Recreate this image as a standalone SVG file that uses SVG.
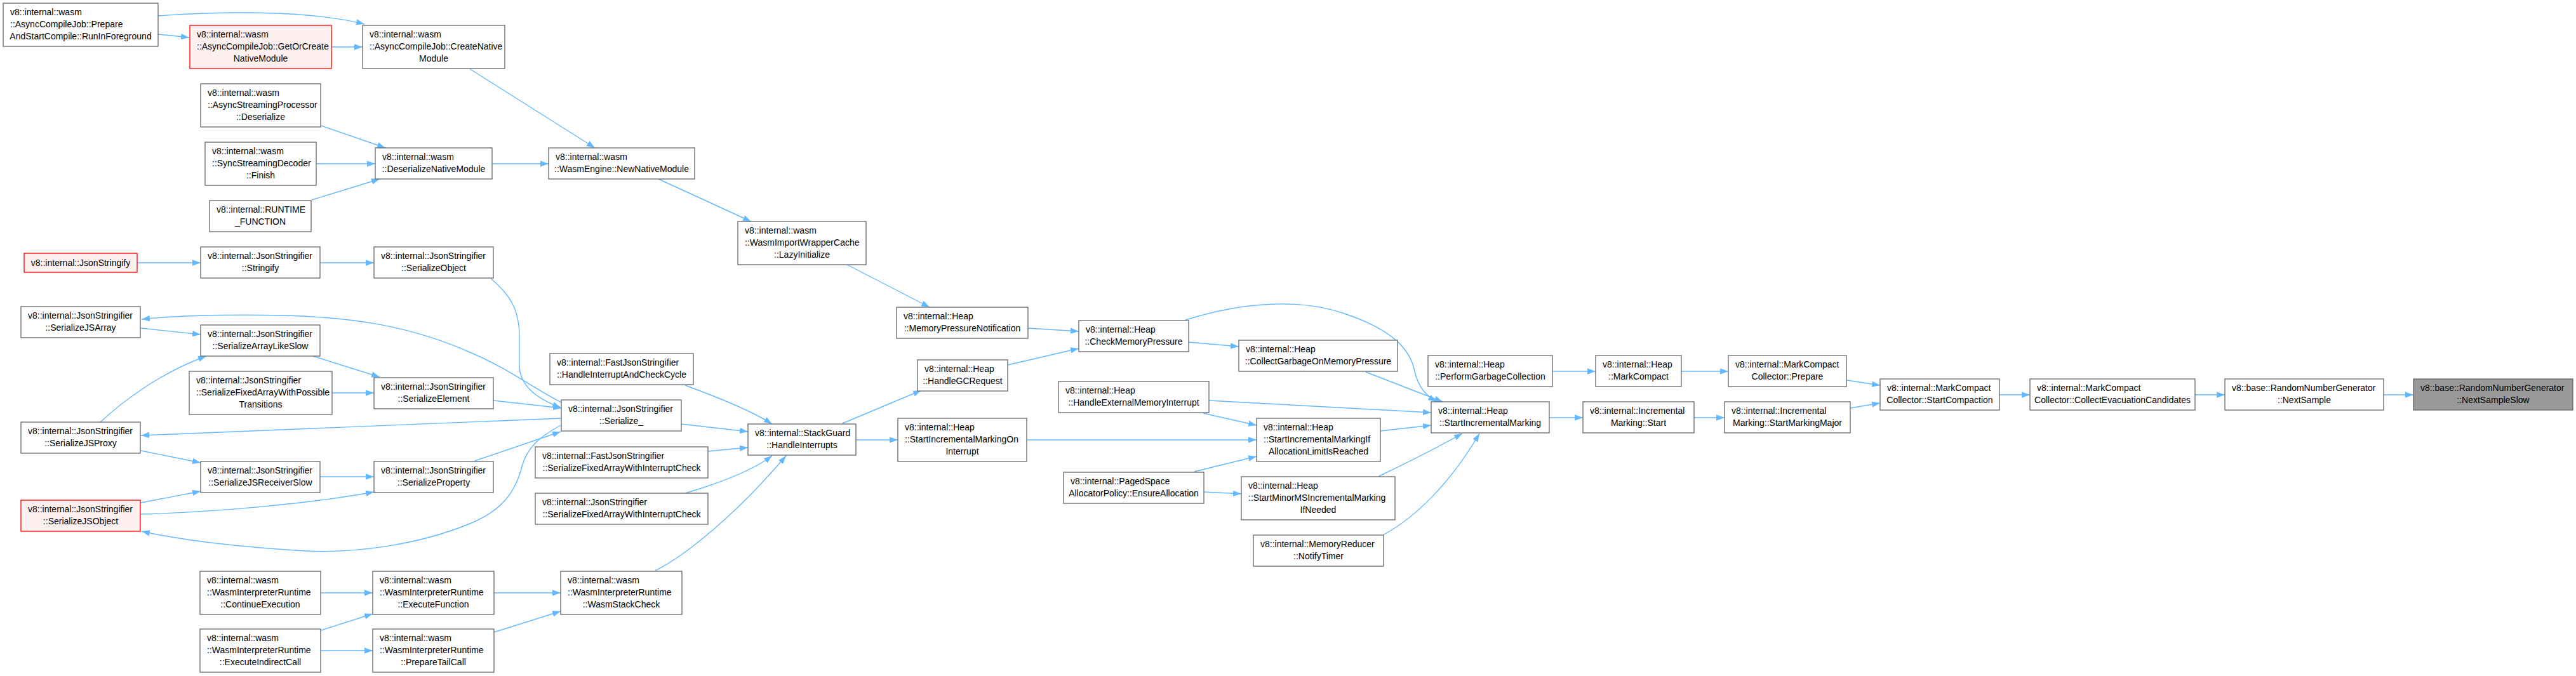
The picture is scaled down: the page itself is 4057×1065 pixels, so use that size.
<svg xmlns="http://www.w3.org/2000/svg" width="4057" height="1065" viewBox="0 0 4057 1065">
<style>
.node rect{fill:#ffffff;stroke:#666666;stroke-width:1.3}
.red rect{fill:#fff0f0;stroke:#ff0000}
.cur rect{fill:#999999;stroke:#666666}
text{font-family:"Liberation Sans",Arial,sans-serif;font-size:14px;fill:#000000}
.l{text-anchor:start}
.c{text-anchor:middle}
.edges path{fill:none;stroke:#63b8ff;stroke-width:1.4;marker-end:url(#ah)}
</style>
<defs>
<marker id="ah" markerWidth="14" markerHeight="10" refX="13" refY="5" orient="auto" markerUnits="userSpaceOnUse">
<path d="M0,0.3 L13,5 L0,9.7 z" fill="#63b8ff" stroke="none"/>
</marker>
</defs>
<rect width="4057" height="1065" fill="#ffffff"/>
<g class="edges" id="edges">
<path d="M249,54 L298,59"/>
<path d="M249,25 C330,19 480,14 574,38"/>
<path d="M522,74 L571,74"/>
<path d="M739,108 L937,233"/>
<path d="M506,198 L607,233"/>
<path d="M498,258 L591,258"/>
<path d="M491,315 L598,282"/>
<path d="M775,258 L864,258"/>
<path d="M1037,282 L1183,349"/>
<path d="M1334,417 L1464,484"/>
<path d="M216,414 L316,414"/>
<path d="M504,414 L589,414"/>
<path d="M773,439 C805,465 818,490 818,530 L818,575 C818,610 850,630 883,642"/>
<path d="M222,517 L316,527"/>
<path d="M884,634 C840,612 800,580 740,555 C650,515 560,500 450,497 C350,495 270,498 223,503"/>
<path d="M493,561 L598,594"/>
<path d="M523,619 L589,619"/>
<path d="M777,631 L884,643"/>
<path d="M884,659 L222,686"/>
<path d="M158,665 C185,640 245,590 325,561"/>
<path d="M222,710 L316,729"/>
<path d="M222,792 L316,774"/>
<path d="M504,751 L589,751"/>
<path d="M222,810 C330,807 480,795 589,775"/>
<path d="M883,670 C850,688 830,705 822,735 C812,775 790,805 740,825 C660,858 560,872 480,868 C380,862 290,852 223,837"/>
<path d="M748,726 L883,680"/>
<path d="M1073,668 L1178,680"/>
<path d="M1079,607 C1120,622 1180,645 1216,668"/>
<path d="M1115,711 L1178,705"/>
<path d="M1079,777 C1120,765 1180,745 1216,718"/>
<path d="M1032,899 C1080,875 1160,810 1238,718"/>
<path d="M505,934 L587,934"/>
<path d="M506,993 L587,967"/>
<path d="M505,1025 L587,1025"/>
<path d="M778,934 L883,934"/>
<path d="M778,996 L883,963"/>
<path d="M1327,667 L1451,615"/>
<path d="M1348,693 L1414,693"/>
<path d="M1619,517 L1699,522"/>
<path d="M1587,575 L1699,549"/>
<path d="M1867,504 C1960,475 2050,470 2120,495 C2200,522 2222,555 2228,585 C2234,610 2245,622 2262,633"/>
<path d="M1872,539 L1951,546"/>
<path d="M2151,586 L2272,633"/>
<path d="M1904,631 L2254,650"/>
<path d="M1895,651 L1979,670"/>
<path d="M1617,693 L1979,693"/>
<path d="M1881,743 L1979,719"/>
<path d="M1896,775 L1955,778"/>
<path d="M2174,679 L2254,670"/>
<path d="M2172,750 Q2240,718 2303,683"/>
<path d="M2178,843 C2230,815 2285,760 2330,683"/>
<path d="M2445,585 L2513,585"/>
<path d="M2648,585 L2722,585"/>
<path d="M2440,658 L2493,658"/>
<path d="M2668,658 L2716,658"/>
<path d="M2909,599 L2961,607"/>
<path d="M2914,643 L2961,635"/>
<path d="M3149,622 L3197,622"/>
<path d="M3457,622 L3504,622"/>
<path d="M3754,622 L3801,622"/>
</g>
<g id="n_runinforeground" class="node"><rect x="5" y="5" width="244" height="68"/><text class="l" x="16" y="24">v8::internal::wasm</text><text class="l" x="16" y="43">::AsyncCompileJob::Prepare</text><text class="c" x="127" y="62">AndStartCompile::RunInForeground</text></g>
<g id="n_getorcreate" class="node red"><rect x="299" y="40" width="223" height="68"/><text class="l" x="310" y="59">v8::internal::wasm</text><text class="l" x="310" y="78">::AsyncCompileJob::GetOrCreate</text><text class="c" x="410.5" y="97">NativeModule</text></g>
<g id="n_createnative" class="node"><rect x="571" y="40" width="224" height="68"/><text class="l" x="582" y="59">v8::internal::wasm</text><text class="l" x="582" y="78">::AsyncCompileJob::CreateNative</text><text class="c" x="683" y="97">Module</text></g>
<g id="n_asyncstreaming" class="node"><rect x="316" y="132" width="189" height="68"/><text class="l" x="327" y="151">v8::internal::wasm</text><text class="l" x="327" y="170">::AsyncStreamingProcessor</text><text class="c" x="410.5" y="189">::Deserialize</text></g>
<g id="n_syncstreaming" class="node"><rect x="323" y="224" width="175" height="68"/><text class="l" x="334" y="243">v8::internal::wasm</text><text class="l" x="334" y="262">::SyncStreamingDecoder</text><text class="c" x="410.5" y="281">::Finish</text></g>
<g id="n_runtime" class="node"><rect x="330" y="316" width="160" height="49"/><text class="l" x="341" y="335">v8::internal::RUNTIME</text><text class="c" x="410" y="354">_FUNCTION</text></g>
<g id="n_deserializenative" class="node"><rect x="591" y="233" width="184" height="49"/><text class="l" x="602" y="252">v8::internal::wasm</text><text class="c" x="683" y="271">::DeserializeNativeModule</text></g>
<g id="n_jsonstringify" class="node red"><rect x="38" y="399" width="178" height="30"/><text class="c" x="127" y="419">v8::internal::JsonStringify</text></g>
<g id="n_stringify" class="node"><rect x="316" y="389" width="188" height="49"/><text class="l" x="327" y="408">v8::internal::JsonStringifier</text><text class="c" x="410" y="427">::Stringify</text></g>
<g id="n_serializeobject" class="node"><rect x="589" y="389" width="188" height="49"/><text class="l" x="600" y="408">v8::internal::JsonStringifier</text><text class="c" x="683" y="427">::SerializeObject</text></g>
<g id="n_serializejsarray" class="node"><rect x="33" y="483" width="188" height="49"/><text class="l" x="44" y="502">v8::internal::JsonStringifier</text><text class="c" x="127" y="521">::SerializeJSArray</text></g>
<g id="n_arraylikeslow" class="node"><rect x="316" y="512" width="188" height="49"/><text class="l" x="327" y="531">v8::internal::JsonStringifier</text><text class="c" x="410" y="550">::SerializeArrayLikeSlow</text></g>
<g id="n_fixedpossible" class="node"><rect x="298" y="585" width="225" height="68"/><text class="l" x="309" y="604">v8::internal::JsonStringifier</text><text class="l" x="309" y="623">::SerializeFixedArrayWithPossible</text><text class="c" x="410.5" y="642">Transitions</text></g>
<g id="n_serializeelement" class="node"><rect x="589" y="595" width="188" height="49"/><text class="l" x="600" y="614">v8::internal::JsonStringifier</text><text class="c" x="683" y="633">::SerializeElement</text></g>
<g id="n_serializejsproxy" class="node"><rect x="33" y="665" width="188" height="49"/><text class="l" x="44" y="684">v8::internal::JsonStringifier</text><text class="c" x="127" y="703">::SerializeJSProxy</text></g>
<g id="n_receiverslow" class="node"><rect x="316" y="727" width="188" height="49"/><text class="l" x="327" y="746">v8::internal::JsonStringifier</text><text class="c" x="410" y="765">::SerializeJSReceiverSlow</text></g>
<g id="n_serializeproperty" class="node"><rect x="589" y="727" width="188" height="49"/><text class="l" x="600" y="746">v8::internal::JsonStringifier</text><text class="c" x="683" y="765">::SerializeProperty</text></g>
<g id="n_serializejsobject" class="node red"><rect x="33" y="788" width="188" height="49"/><text class="l" x="44" y="807">v8::internal::JsonStringifier</text><text class="c" x="127" y="826">::SerializeJSObject</text></g>
<g id="n_continueexecution" class="node"><rect x="315" y="900" width="190" height="68"/><text class="l" x="326" y="919">v8::internal::wasm</text><text class="l" x="326" y="938">::WasmInterpreterRuntime</text><text class="c" x="410" y="957">::ContinueExecution</text></g>
<g id="n_executeindirect" class="node"><rect x="315" y="991" width="190" height="68"/><text class="l" x="326" y="1010">v8::internal::wasm</text><text class="l" x="326" y="1029">::WasmInterpreterRuntime</text><text class="c" x="410" y="1048">::ExecuteIndirectCall</text></g>
<g id="n_executefunction" class="node"><rect x="587" y="900" width="191" height="68"/><text class="l" x="598" y="919">v8::internal::wasm</text><text class="l" x="598" y="938">::WasmInterpreterRuntime</text><text class="c" x="682.5" y="957">::ExecuteFunction</text></g>
<g id="n_preparetailcall" class="node"><rect x="587" y="991" width="191" height="68"/><text class="l" x="598" y="1010">v8::internal::wasm</text><text class="l" x="598" y="1029">::WasmInterpreterRuntime</text><text class="c" x="682.5" y="1048">::PrepareTailCall</text></g>
<g id="n_wasmstackcheck" class="node"><rect x="883" y="900" width="191" height="68"/><text class="l" x="894" y="919">v8::internal::wasm</text><text class="l" x="894" y="938">::WasmInterpreterRuntime</text><text class="c" x="978.5" y="957">::WasmStackCheck</text></g>
<g id="n_newnativemodule" class="node"><rect x="864" y="233" width="230" height="49"/><text class="l" x="875" y="252">v8::internal::wasm</text><text class="c" x="979" y="271">::WasmEngine::NewNativeModule</text></g>
<g id="n_lazyinitialize" class="node"><rect x="1162" y="349" width="202" height="68"/><text class="l" x="1173" y="368">v8::internal::wasm</text><text class="l" x="1173" y="387">::WasmImportWrapperCache</text><text class="c" x="1263" y="406">::LazyInitialize</text></g>
<g id="n_fastcheckcycle" class="node"><rect x="866" y="557" width="226" height="49"/><text class="l" x="877" y="576">v8::internal::FastJsonStringifier</text><text class="c" x="979" y="595">::HandleInterruptAndCheckCycle</text></g>
<g id="n_serialize_" class="node"><rect x="884" y="630" width="189" height="49"/><text class="l" x="895" y="649">v8::internal::JsonStringifier</text><text class="c" x="978.5" y="668">::Serialize_</text></g>
<g id="n_fastfixedcheck" class="node"><rect x="843" y="704" width="272" height="49"/><text class="l" x="854" y="723">v8::internal::FastJsonStringifier</text><text class="c" x="979" y="742">::SerializeFixedArrayWithInterruptCheck</text></g>
<g id="n_jsonfixedcheck" class="node"><rect x="843" y="777" width="272" height="49"/><text class="l" x="854" y="796">v8::internal::JsonStringifier</text><text class="c" x="979" y="815">::SerializeFixedArrayWithInterruptCheck</text></g>
<g id="n_handleinterrupts" class="node"><rect x="1178" y="668" width="170" height="49"/><text class="l" x="1189" y="687">v8::internal::StackGuard</text><text class="c" x="1263" y="706">::HandleInterrupts</text></g>
<g id="n_memorypressurenotification" class="node"><rect x="1412" y="484" width="207" height="49"/><text class="l" x="1423" y="503">v8::internal::Heap</text><text class="c" x="1515.5" y="522">::MemoryPressureNotification</text></g>
<g id="n_checkmemorypressure" class="node"><rect x="1699" y="505" width="173" height="49"/><text class="l" x="1710" y="524">v8::internal::Heap</text><text class="c" x="1785.5" y="543">::CheckMemoryPressure</text></g>
<g id="n_collectgarbage" class="node"><rect x="1951" y="536" width="250" height="49"/><text class="l" x="1962" y="555">v8::internal::Heap</text><text class="c" x="2076" y="574">::CollectGarbageOnMemoryPressure</text></g>
<g id="n_handlegcrequest" class="node"><rect x="1445" y="567" width="142" height="49"/><text class="l" x="1456" y="586">v8::internal::Heap</text><text class="c" x="1516" y="605">::HandleGCRequest</text></g>
<g id="n_externalmemory" class="node"><rect x="1667" y="601" width="237" height="49"/><text class="l" x="1678" y="620">v8::internal::Heap</text><text class="c" x="1785.5" y="639">::HandleExternalMemoryInterrupt</text></g>
<g id="n_startonint" class="node"><rect x="1414" y="659" width="203" height="68"/><text class="l" x="1425" y="678">v8::internal::Heap</text><text class="l" x="1425" y="697">::StartIncrementalMarkingOn</text><text class="c" x="1515.5" y="716">Interrupt</text></g>
<g id="n_startiflimit" class="node"><rect x="1979" y="659" width="195" height="68"/><text class="l" x="1990" y="678">v8::internal::Heap</text><text class="l" x="1990" y="697">::StartIncrementalMarkingIf</text><text class="c" x="2076.5" y="716">AllocationLimitIsReached</text></g>
<g id="n_ensureallocation" class="node"><rect x="1675" y="744" width="221" height="49"/><text class="l" x="1686" y="763">v8::internal::PagedSpace</text><text class="c" x="1785.5" y="782">AllocatorPolicy::EnsureAllocation</text></g>
<g id="n_startminorms" class="node"><rect x="1955" y="751" width="242" height="68"/><text class="l" x="1966" y="770">v8::internal::Heap</text><text class="l" x="1966" y="789">::StartMinorMSIncrementalMarking</text><text class="c" x="2076" y="808">IfNeeded</text></g>
<g id="n_notifytimer" class="node"><rect x="1974" y="843" width="205" height="49"/><text class="l" x="1985" y="862">v8::internal::MemoryReducer</text><text class="c" x="2076.5" y="881">::NotifyTimer</text></g>
<g id="n_performgc" class="node"><rect x="2249" y="560" width="196" height="49"/><text class="l" x="2260" y="579">v8::internal::Heap</text><text class="c" x="2347" y="598">::PerformGarbageCollection</text></g>
<g id="n_markcompact" class="node"><rect x="2513" y="560" width="135" height="49"/><text class="l" x="2524" y="579">v8::internal::Heap</text><text class="c" x="2580.5" y="598">::MarkCompact</text></g>
<g id="n_startincremental" class="node"><rect x="2254" y="633" width="186" height="49"/><text class="l" x="2265" y="652">v8::internal::Heap</text><text class="c" x="2347" y="671">::StartIncrementalMarking</text></g>
<g id="n_imstart" class="node"><rect x="2493" y="633" width="175" height="49"/><text class="l" x="2504" y="652">v8::internal::Incremental</text><text class="c" x="2580.5" y="671">Marking::Start</text></g>
<g id="n_mcprepare" class="node"><rect x="2722" y="560" width="186" height="49"/><text class="l" x="2733" y="579">v8::internal::MarkCompact</text><text class="c" x="2815" y="598">Collector::Prepare</text></g>
<g id="n_startmarkingmajor" class="node"><rect x="2716" y="633" width="198" height="49"/><text class="l" x="2727" y="652">v8::internal::Incremental</text><text class="c" x="2815" y="671">Marking::StartMarkingMajor</text></g>
<g id="n_startcompaction" class="node"><rect x="2961" y="597" width="188" height="49"/><text class="l" x="2972" y="616">v8::internal::MarkCompact</text><text class="c" x="3055" y="635">Collector::StartCompaction</text></g>
<g id="n_evacuation" class="node"><rect x="3197" y="597" width="260" height="49"/><text class="l" x="3208" y="616">v8::internal::MarkCompact</text><text class="c" x="3327" y="635">Collector::CollectEvacuationCandidates</text></g>
<g id="n_nextsample" class="node"><rect x="3504" y="597" width="250" height="49"/><text class="l" x="3515" y="616">v8::base::RandomNumberGenerator</text><text class="c" x="3629" y="635">::NextSample</text></g>
<g id="n_nextsampleslow" class="node cur"><rect x="3801" y="597" width="251" height="49"/><text class="l" x="3812" y="616">v8::base::RandomNumberGenerator</text><text class="c" x="3926.5" y="635">::NextSampleSlow</text></g>
</svg>
